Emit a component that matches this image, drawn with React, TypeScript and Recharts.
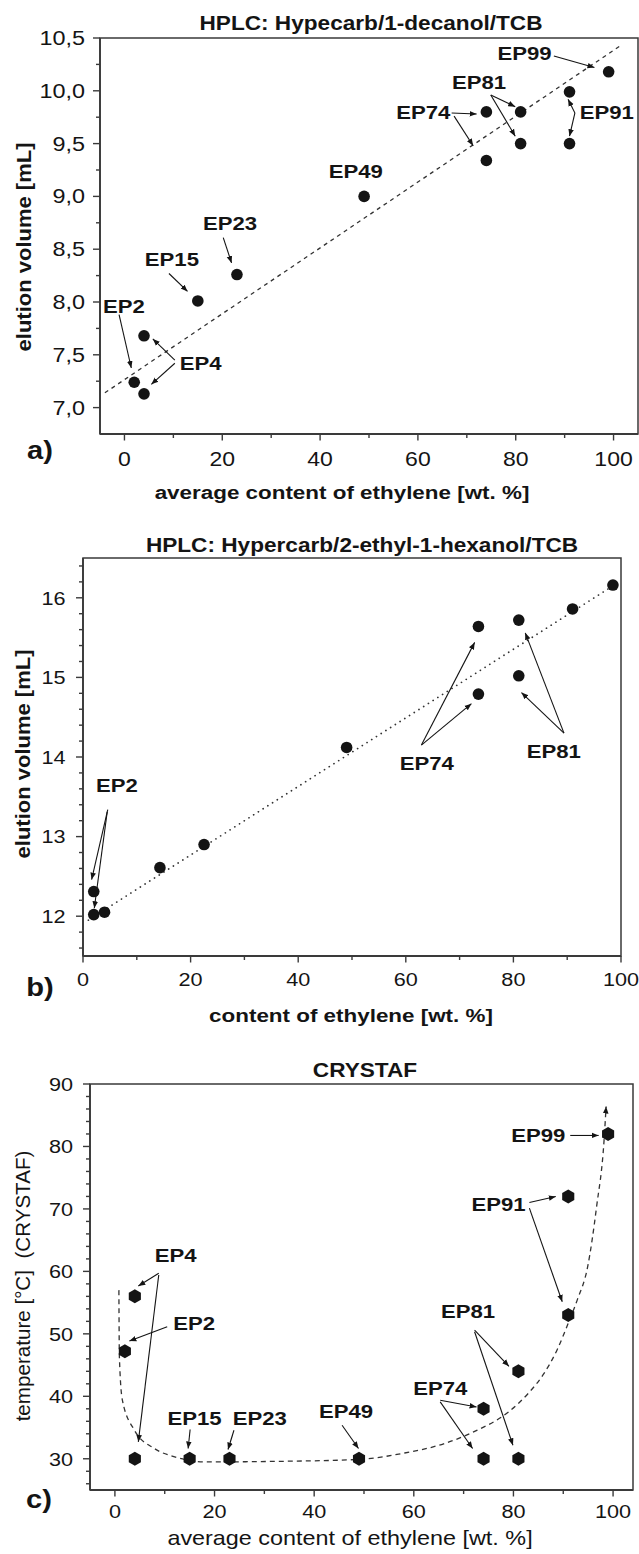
import React from "react";
import { ComposedChart, Scatter, Line, XAxis, YAxis, ReferenceLine, ReferenceArea } from "recharts";

const FONT = "'Liberation Sans', Arial, Helvetica, sans-serif";
const INK = "#141414";
const AXIS = "#3a3a3a";

// ---- panel a: HPLC Hypecarb / 1-decanol / TCB ----
const aEthylene = [2, 4, 4, 15, 23, 49, 74, 74, 81, 81, 91, 91, 99];
const aElution = [7.24, 7.13, 7.68, 8.01, 8.26, 9.0, 9.8, 9.34, 9.8, 9.5, 9.99, 9.5, 10.18];
const aTrendX = [-4, 101.5];
const aTrendY = [7.14, 10.43];
const aXTicks = [0, 10, 20, 30, 40, 50, 60, 70, 80, 90, 100];
const aXMajor = [0, 20, 40, 60, 80, 100];
const aYTicks = [7.0, 7.25, 7.5, 7.75, 8.0, 8.25, 8.5, 8.75, 9.0, 9.25, 9.5, 9.75, 10.0, 10.25, 10.5];
const aYMajor = [7.0, 7.5, 8.0, 8.5, 9.0, 9.5, 10.0, 10.5];
const aLabelText = ["EP99", "EP81", "EP74", "EP91", "EP49", "EP23", "EP15", "EP2", "EP4"];
const aLabelX = [81.8, 72.5, 61.1, 98.6, 47.3, 21.6, 9.7, -0.1, 15.6];
const aLabelY = [10.35, 10.08, 9.79, 9.79, 9.24, 8.74, 8.4, 7.96, 7.42];
// arrows: [fromX, fromY, toX, toY]
const aArrows = [
  [87.8, 10.33, 96.1, 10.22],
  [74.9, 9.96, 79.9, 9.85],
  [74.9, 9.96, 79.9, 9.57],
  [66.9, 9.79, 72.0, 9.78],
  [67.4, 9.76, 71.3, 9.48],
  [92.1, 9.79, 90.7, 9.92],
  [92.1, 9.79, 91.0, 9.57],
  [20.2, 8.61, 21.9, 8.37],
  [9.1, 8.27, 12.9, 8.1],
  [-1.1, 7.88, 1.4, 7.375],
  [10.3, 7.45, 5.8, 7.65],
  [10.3, 7.42, 5.5, 7.22],
];

// ---- panel b: HPLC Hypercarb / 2-ethyl-1-hexanol / TCB ----
const bEthylene = [2, 2, 4, 14.3, 22.5, 49, 73.5, 73.5, 81, 81, 91, 98.5];
const bElution = [12.02, 12.31, 12.05, 12.61, 12.9, 14.12, 15.64, 14.79, 15.72, 15.02, 15.86, 16.16];
const bTrendX = [1, 98.5];
const bTrendY = [11.95, 16.15];
const bXTicks = [0, 10, 20, 30, 40, 50, 60, 70, 80, 90, 100];
const bXMajor = [0, 20, 40, 60, 80, 100];
const bYTicks = [11.6, 11.8, 12, 12.2, 12.4, 12.6, 12.8, 13, 13.2, 13.4, 13.6, 13.8, 14, 14.2, 14.4, 14.6, 14.8, 15, 15.2, 15.4, 15.6, 15.8, 16, 16.2, 16.4];
const bYMajor = [12, 13, 14, 15, 16];
const bLabelText = ["EP74", "EP81", "EP2"];
const bLabelX = [63.9, 87.5, 6.3];
const bLabelY = [13.92, 14.07, 13.64];
const bArrows = [
  [62.9, 14.15, 72.8, 15.44],
  [62.9, 14.15, 72.2, 14.67],
  [89.4, 14.3, 82.2, 15.56],
  [89.4, 14.3, 81.5, 14.81],
  [4.6, 13.34, 1.6, 12.46],
  [4.5, 13.31, 2.1, 12.1],
];

// ---- panel c: CRYSTAF ----
const cEthylene = [2, 4, 4, 15, 23, 49, 74, 74, 81, 81, 91, 91, 99];
const cTemp = [47.2, 56, 30, 30, 30, 30, 38, 30, 44, 30, 72, 53, 82];
const cCurveX = [0.8, 0.9, 1.5, 3.9, 8, 12, 18, 34, 49, 58, 66, 72, 79, 83, 86, 88.8, 91, 92.8, 94.9, 96.7, 98.2, 98.6];
const cCurveY = [57, 46.3, 39.4, 34.6, 31.6, 30.3, 29.5, 29.6, 29.9, 30.9, 32.4, 34.3, 37.5, 40.5, 43.5, 47.5, 51.7, 55.4, 60.75, 70.4, 81.1, 86.4];
const cXTicks = [0, 10, 20, 30, 40, 50, 60, 70, 80, 90, 100];
const cXMajor = [0, 20, 40, 60, 80, 100];
const cYTicks = [26, 28, 30, 32, 34, 36, 38, 40, 42, 44, 46, 48, 50, 52, 54, 56, 58, 60, 62, 64, 66, 68, 70, 72, 74, 76, 78, 80, 82, 84, 86, 88, 90];
const cYMajor = [30, 40, 50, 60, 70, 80, 90];
const cLabelText = ["EP99", "EP91", "EP4", "EP2", "EP81", "EP74", "EP15", "EP23", "EP49"];
const cLabelX = [85.0, 77.0, 12.2, 15.9, 70.9, 65.3, 16.0, 29.1, 46.4];
const cLabelY = [81.76, 70.65, 62.47, 51.68, 53.54, 41.26, 36.45, 36.45, 37.51];
const cArrows = [
  [91.4, 81.76, 97.1, 81.76],
  [83.2, 71.02, 88.5, 71.98],
  [83.2, 70.12, 89.8, 55.14],
  [8.8, 59.7, 4.7, 57.66],
  [8.8, 59.43, 4.7, 32.7],
  [10.5, 51.13, 2.9, 48.84],
  [72.2, 50.6, 79.1, 44.8],
  [72.2, 50.33, 79.9, 32.16],
  [65.3, 39.38, 72.6, 38.3],
  [65.3, 39.1, 71.8, 31.64],
  [15.1, 34.69, 14.7, 31.64],
  [23.9, 34.57, 22.7, 31.48],
  [45.6, 35.37, 48.9, 31.64],
];

const zip = (xs: number[], ys: number[]) => xs.map((x, i) => ({ x, y: ys[i] }));
const labels = (t: string[], xs: number[], ys: number[]) => t.map((text, i) => ({ x: xs[i], y: ys[i], text }));

// text drawn a little wider than the font, like the scanned figure
function SText({ x, y, size, bold = false, anchor = "middle", rotate = 0, sx = 1.18, children }: any) {
  return (
    <text
      transform={`translate(${x} ${y}) rotate(${rotate}) scale(${sx} 1)`}
      textAnchor={anchor}
      dy="0.36em"
      fontSize={size}
      fontWeight={bold ? 700 : 400}
      fontFamily={FONT}
      fill={INK}
      style={{ whiteSpace: "pre" }}
    >
      {children}
    </text>
  );
}

const makeXTick = (major: number[], dy: number, size: number, sx: number) => (p: any) => {
  const v = p.payload.value;
  const isMajor = major.includes(v);
  return (
    <g>
      <line x1={p.x} y1={p.y} x2={p.x} y2={p.y + (isMajor ? 6.5 : 4)} stroke={AXIS} strokeWidth={1.4} />
      {isMajor && <SText x={p.x} y={p.y + dy} size={size} sx={sx}>{String(v)}</SText>}
    </g>
  );
};

const makeYTick = (major: number[], gap: number, size: number, sx: number, fmt: (v: number) => string) => (p: any) => {
  const v = p.payload.value;
  const isMajor = major.some((m) => Math.abs(m - v) < 1e-6);
  return (
    <g>
      <line x1={p.x} y1={p.y} x2={p.x - (isMajor ? 7 : 4)} y2={p.y} stroke={AXIS} strokeWidth={1.4} />
      {isMajor && <SText x={p.x - gap} y={p.y} size={size} sx={sx} anchor="end">{fmt(v)}</SText>}
    </g>
  );
};

const roundDot = (p: any) => <circle cx={p.cx} cy={p.cy} r={5.8} fill={INK} />;
const hexDot = (p: any) => {
  const r = 7;
  const pts = [90, 30, -30, -90, -150, 150]
    .map((a) => `${p.cx + r * Math.cos((a * Math.PI) / 180)},${p.cy - r * Math.sin((a * Math.PI) / 180)}`)
    .join(" ");
  return <polygon points={pts} fill={INK} />;
};
const labelShape = (p: any) => <SText x={p.cx} y={p.cy} size={18} bold sx={1.23}>{p.payload.text}</SText>;
const arrowShape = (p: any) => (
  <line x1={p.x1} y1={p.y1} x2={p.x2} y2={p.y2} stroke={INK} strokeWidth={1.1} markerEnd="url(#arrowHead)" />
);

function Panel({ top, height, yWidth, mTop, mRight, xH, xDomain, yDomain, xTicks, yTicks, xTick, yTick, children }: any) {
  return (
    <div style={{ position: "absolute", left: 0, top }}>
      <ComposedChart width={639} height={height} margin={{ top: mTop, right: mRight, bottom: 0, left: 0 }}>
        <XAxis
          type="number"
          dataKey="x"
          domain={xDomain}
          ticks={xTicks}
          interval={0}
          allowDataOverflow
          height={xH}
          tickLine={false}
          tickSize={0}
          tickMargin={0}
          tick={xTick}
          axisLine={{ stroke: AXIS, strokeWidth: 1.8 }}
        />
        <YAxis
          type="number"
          dataKey="y"
          domain={yDomain}
          ticks={yTicks}
          interval={0}
          allowDataOverflow
          width={yWidth}
          tickLine={false}
          tickSize={0}
          tickMargin={0}
          tick={yTick}
          axisLine={{ stroke: AXIS, strokeWidth: 1.8 }}
        />
        <ReferenceArea x1={xDomain[0]} x2={xDomain[1]} y1={yDomain[0]} y2={yDomain[1]} fill="none" fillOpacity={0} stroke={AXIS} strokeWidth={1.5} ifOverflow="visible" />
        {children}
      </ComposedChart>
    </div>
  );
}

const arrowLines = (list: number[][], key: string) =>
  list.map((a, i) => (
    <ReferenceLine
      key={`${key}${i}`}
      segment={[{ x: a[0], y: a[1] }, { x: a[2], y: a[3] }]}
      ifOverflow="visible"
      shape={arrowShape}
    />
  ));

export default function App() {
  const comma = (v: number) => v.toFixed(1).replace(".", ",");
  const plain = (v: number) => String(v);
  return (
    <div style={{ position: "absolute", left: 0, top: 0, width: 639, height: 1554, background: "#fff", overflow: "hidden" }}>
      <Panel
        top={0}
        height={480}
        yWidth={100}
        mTop={38}
        mRight={1}
        xH={46}
        xDomain={[-5, 105]}
        yDomain={[6.75, 10.5]}
        xTicks={aXTicks}
        yTicks={aYTicks}
        xTick={makeXTick(aXMajor, 25, 19.5, 1.18)}
        yTick={makeYTick(aYMajor, 15, 19.5, 1.2, comma)}
      >
        <Line data={zip(aTrendX, aTrendY)} dataKey="y" type="linear" stroke="#333" strokeWidth={1.3} strokeDasharray="4 4" dot={false} isAnimationActive={false} />
        {arrowLines(aArrows, "a")}
        <Scatter data={zip(aEthylene, aElution)} shape={roundDot} isAnimationActive={false} />
        <Scatter data={labels(aLabelText, aLabelX, aLabelY)} shape={labelShape} isAnimationActive={false} />
      </Panel>

      <Panel
        top={500}
        height={500}
        yWidth={83}
        mTop={58}
        mRight={18}
        xH={44}
        xDomain={[0, 100]}
        yDomain={[11.5, 16.5]}
        xTicks={bXTicks}
        yTicks={bYTicks}
        xTick={makeXTick(bXMajor, 23, 19, 1.14)}
        yTick={makeYTick(bYMajor, 17.5, 19, 1.14, plain)}
      >
        <Line data={zip(bTrendX, bTrendY)} dataKey="y" type="linear" stroke="#333" strokeWidth={1.7} strokeDasharray="0.1 5.5" strokeLinecap="round" dot={false} isAnimationActive={false} />
        {arrowLines(bArrows, "b")}
        <Scatter data={zip(bEthylene, bElution)} shape={roundDot} isAnimationActive={false} />
        <Scatter data={labels(bLabelText, bLabelX, bLabelY)} shape={labelShape} isAnimationActive={false} />
      </Panel>

      <Panel
        top={1050}
        height={504}
        yWidth={90}
        mTop={34}
        mRight={6}
        xH={64}
        xDomain={[-5, 104]}
        yDomain={[25, 90]}
        xTicks={cXTicks}
        yTicks={cYTicks}
        xTick={makeXTick(cXMajor, 21, 19, 1.14)}
        yTick={makeYTick(cYMajor, 17, 19, 1.14, plain)}
      >
        <Line data={zip(cCurveX, cCurveY)} dataKey="y" type="monotone" stroke="#333" strokeWidth={1.3} strokeDasharray="5 4" dot={false} markerEnd="url(#arrowHead)" isAnimationActive={false} />
        {arrowLines(cArrows, "c")}
        <Scatter data={zip(cEthylene, cTemp)} shape={hexDot} isAnimationActive={false} />
        <Scatter data={labels(cLabelText, cLabelX, cLabelY)} shape={labelShape} isAnimationActive={false} />
      </Panel>

      <svg width={639} height={1554} style={{ position: "absolute", left: 0, top: 0, pointerEvents: "none" }}>
        <defs>
          <marker id="arrowHead" viewBox="0 0 10 10" refX="10" refY="5" markerWidth="7" markerHeight="7" markerUnits="userSpaceOnUse" orient="auto">
            <path d="M0,1 L10,5 L0,9 Z" fill={INK} />
          </marker>
        </defs>

        <SText x={371} y={23} size={19.5} bold sx={1.16}>HPLC: Hypecarb/1-decanol/TCB</SText>
        <SText x={24} y={247} size={20} bold sx={1.1} rotate={-90}>elution volume [mL]</SText>
        <SText x={342} y={492} size={19} bold>average content of ethylene [wt. %]</SText>
        <SText x={40} y={450} size={26} bold sx={1.12}>a)</SText>

        <SText x={362} y={545} size={19.5} bold sx={1.16}>HPLC: Hypercarb/2-ethyl-1-hexanol/TCB</SText>
        <SText x={23} y={754} size={20} bold sx={1.1} rotate={-90}>elution volume [mL]</SText>
        <SText x={351} y={1015} size={19} bold>content of ethylene [wt. %]</SText>
        <SText x={40} y={987} size={26} bold sx={1.12}>b)</SText>

        <SText x={365} y={1070} size={19.5} bold sx={1.16}>CRYSTAF</SText>
        <SText x={23} y={1286} size={20} sx={1.03} rotate={-90}>{"temperature [°C]\u00a0\u00a0(CRYSTAF)"}</SText>
        <SText x={350} y={1538} size={20} sx={1.17}>average content of ethylene [wt. %]</SText>
        <SText x={39} y={1499} size={26} bold sx={1.12}>c)</SText>
      </svg>
    </div>
  );
}
